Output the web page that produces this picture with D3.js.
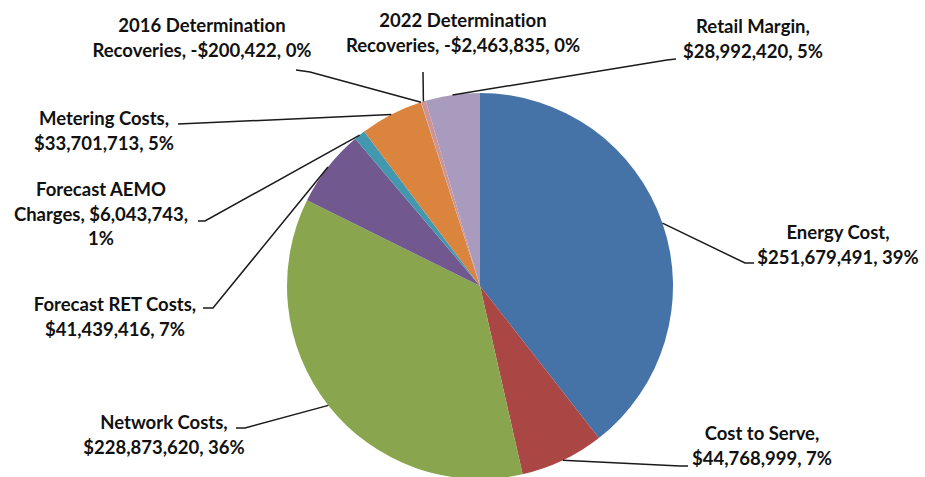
<!DOCTYPE html>
<html><head><meta charset="utf-8">
<script src="https://cdn.jsdelivr.net/npm/d3@7"></script>
<style>
html,body{margin:0;padding:0;background:#fff;}
svg{display:block;}
text{font-family:Lato,"Open Sans",sans-serif;font-weight:bold;fill:#111;font-variant-ligatures:none;font-feature-settings:"liga" 0;}
</style></head>
<body>
<svg id="chart" width="925" height="477"></svg>
<script>
// ---- data ----
const categories = ["Energy Cost","Cost to Serve","Network Costs","Forecast RET Costs","Forecast AEMO Charges","Metering Costs","2016 Determination Recoveries","2022 Determination Recoveries","Retail Margin"];
const values = [251679491, 44768999, 228873620, 41439416, 6043743, 33701713, -200422, -2463835, 28992420];
const percents = [39, 7, 36, 7, 1, 5, 0, 0, 5];
const colors = ["#4572A7","#AA4643","#89A54E","#71588F","#4198AF","#DB843D","#93A9CF","#D19392","#A99BBD"];

// ---- layout (label placement) ----
const lineWords = [[2,2],[3,2],[2,2],[3,2],[2,2,1],[2,2],[2,3],[2,3],[2,2]];
const labelPos = [ // center x, first baseline y
  [838,239],[762,440],[164,429],[115,311],[101,196],[104,125],[202,32],[463,27],[753,33]
];
const leaderPts = [ // points from label end (pie point is computed)
  [[745,263],[754,263]],
  [[680,466],[688,466]],
  [[245,428],[236,428]],
  [[213,308],[203,308]],
  [[205,221],[198,221]],
  [[178,124]],
  [[310,72],[296,70]],
  [[423,72]],
  [[667,60],[676,59]]
];

const svg = d3.select("#chart");
const cx = 480, cy = 286, r = 193;
const g = svg.append("g").attr("transform", `translate(${cx},${cy})`);

const pie = d3.pie().value(d => Math.abs(d)).sort(null);
const arcs = pie(values);
const arc = d3.arc().innerRadius(0).outerRadius(r);

g.selectAll("path.slice").data(arcs).enter().append("path")
  .attr("class","slice")
  .attr("d", arc)
  .attr("fill", (d,i) => colors[i]);

const fmt = v => (v < 0 ? "-" : "") + "$" + d3.format(",")(Math.abs(v));

// leader lines
const line = d3.line();
arcs.forEach((a,i) => {
  const mid = (a.startAngle + a.endAngle)/2;
  const p0 = [cx + r*Math.sin(mid), cy - r*Math.cos(mid)];
  const pts = [p0].concat(leaderPts[i]);
  svg.append("path").attr("d", line(pts))
    .attr("fill","none").attr("stroke","#1a1a1a").attr("stroke-width",1.5);
});

// labels
const fontSize = 18.5, lh = 24.5;
categories.forEach((c,i) => {
  const full = `${c}, ${fmt(values[i])}, ${percents[i]}%`;
  const words = full.split(" ");
  const lines = [];
  let k = 0;
  lineWords[i].forEach(n => { lines.push(words.slice(k,k+n).join(" ")); k += n; });
  const t = svg.append("text")
    .attr("text-anchor","middle")
    .attr("font-size", fontSize);
  lines.forEach((l,j) => {
    t.append("tspan").attr("x", labelPos[i][0]).attr("y", labelPos[i][1] + j*lh).text(l);
  });
});
</script>
</body></html>
